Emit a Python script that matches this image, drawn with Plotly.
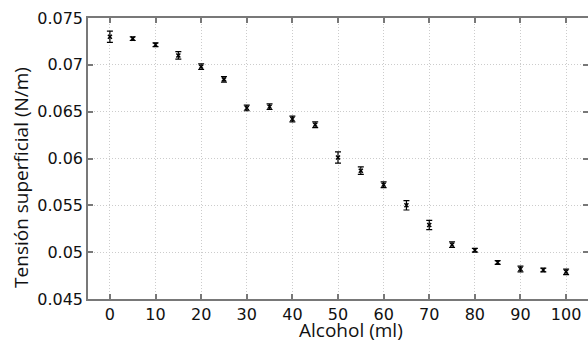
import plotly.graph_objects as go

alcohol_ml = [0, 5, 10, 15, 20, 25, 30, 35, 40, 45, 50, 55, 60, 65, 70, 75, 80, 85, 90, 95, 100]
tension = [0.0730, 0.0728, 0.07215, 0.0710, 0.0698, 0.06845, 0.06540, 0.06553, 0.06422, 0.06360,
           0.06010, 0.05870, 0.05720, 0.05500, 0.05290, 0.05080, 0.05020, 0.04890, 0.04820, 0.04810, 0.04790]
error = [0.0006, 0.0002, 0.0002, 0.0004, 0.0003, 0.0003, 0.0003, 0.0003, 0.0003, 0.0003,
         0.0006, 0.0004, 0.0003, 0.0005, 0.0005, 0.0003, 0.0002, 0.0002, 0.0003, 0.0002, 0.0003]
x_ticks = [0, 10, 20, 30, 40, 50, 60, 70, 80, 90, 100]
y_ticks = [0.045, 0.05, 0.055, 0.06, 0.065, 0.07, 0.075]
y_tick_labels = ["0.045", "0.05", "0.055", "0.06", "0.065", "0.07", "0.075"]

fig = go.Figure()
fig.add_trace(go.Scatter(
    x=alcohol_ml, y=tension, mode="markers",
    marker=dict(symbol="x-thin", size=4, color="black", line=dict(width=1.5, color="black")),
    error_y=dict(type="data", array=error, visible=True, color="black", thickness=1.2, width=3),
    showlegend=False,
))

axis_common = dict(
    showline=True, linecolor="#787878", linewidth=1.5, mirror="ticks",
    ticks="inside", ticklen=5, tickcolor="#787878", tickwidth=1.5,
    showgrid=True, gridcolor="#cccccc", griddash="1px,2px", gridwidth=1,
    zeroline=False, automargin=False,
    tickfont=dict(family="DejaVu Sans", size=16, color="#111111"),
)

fig.update_layout(
    width=588, height=341,
    margin=dict(l=88, r=0, t=18, b=42),
    paper_bgcolor="white", plot_bgcolor="white",
    xaxis=dict(range=[-4.8, 104.8], tickvals=x_ticks, ticktext=[str(v) for v in x_ticks], **axis_common),
    yaxis=dict(range=[0.045, 0.075], tickvals=y_ticks, ticktext=y_tick_labels, **axis_common),
    annotations=[
        dict(text="Alcohol (ml)", xref="paper", yref="paper", x=0.526, y=0,
             yshift=-31, xanchor="center", yanchor="middle", showarrow=False,
             font=dict(family="Open Sans", size=19, color="#111111")),
        dict(text="Tensión superficial (N/m)", xref="paper", yref="paper", x=0, y=0.431,
             xshift=-82, xanchor="left", yanchor="middle", textangle=-90, showarrow=False,
             font=dict(family="Open Sans", size=19, color="#111111")),
    ],
)

fig.write_html("out.html", config={"displayModeBar": False},
               post_script="document.body.style.margin='0';document.body.style.overflow='hidden';")
